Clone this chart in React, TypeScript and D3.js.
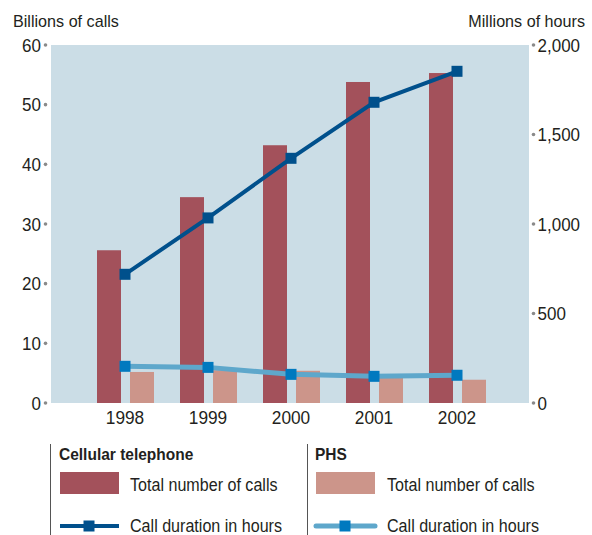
import React from "react";
import * as d3 from "d3";

const years = ["1998", "1999", "2000", "2001", "2002"];
const cellularCalls = [25.6, 34.5, 43.2, 53.8, 55.3];
const phsCalls = [5.2, 5.5, 5.4, 4.3, 3.9];
const cellularHours = [719, 1034, 1367, 1680, 1853];
const phsHours = [205, 199, 160, 149, 155];
const leftTicks = [0, 10, 20, 30, 40, 50, 60];
const rightTicks = [0, 500, 1000, 1500, 2000];

const FONT = "'Liberation Sans', Arial, sans-serif";
const INK = "#231f20";

function CText(props: { x: number; y: number; sx?: number; size: number; anchor?: string; bold?: boolean; children: any }) {
  const { x, y, sx = 1, size, anchor = "start", bold, children } = props;
  return (
    <text
      transform={`translate(${x},${y}) scale(${sx},1)`}
      fontSize={size}
      textAnchor={anchor}
      fontWeight={bold ? "bold" : "normal"}
      fill={INK}
    >
      {children}
    </text>
  );
}

export default function App() {
  const W = 592, H = 535;
  const plot = { left: 51, right: 529, top: 45, bottom: 403 };
  const x = d3.scalePoint<string>().domain(years).range([125, 457]);
  const yL = d3.scaleLinear().domain([0, 60]).range([plot.bottom, plot.top]);
  const yR = d3.scaleLinear().domain([0, 2000]).range([plot.bottom, plot.top]);
  const barW = 24;
  const fmt = d3.format(",");
  const line = d3.line<number>();
  const cellPts: [number, number][] = years.map((y, i) => [x(y)!, yR(cellularHours[i])]);
  const phsPts: [number, number][] = years.map((y, i) => [x(y)!, yR(phsHours[i])]);
  const ms = 11;
  const LS = 18.5, LX = 0.87;
  return (
    <svg width={W} height={H} style={{ position: "absolute", left: 0, top: 0 }} fontFamily={FONT}>
      <rect x={plot.left} y={plot.top} width={plot.right - plot.left} height={plot.bottom - plot.top} fill="#cbdde6" />
      <CText x={13} y={27} size={17} sx={0.95}>Billions of calls</CText>
      <CText x={585} y={27} size={17} sx={0.95} anchor="end">Millions of hours</CText>
      {leftTicks.map((t) => (
        <g key={"l" + t}>
          <circle cx={45.5} cy={yL(t)} r={1.8} fill="#8a8a8a" />
          <CText x={41} y={yL(t) + 6.5} size={18.5} sx={0.92} anchor="end">{t}</CText>
        </g>
      ))}
      {rightTicks.map((t) => (
        <g key={"r" + t}>
          <circle cx={533.5} cy={yR(t)} r={1.8} fill="#8a8a8a" />
          <CText x={537.5} y={yR(t) + 6.5} size={18.5} sx={0.92}>{fmt(t)}</CText>
        </g>
      ))}
      {years.map((y, i) => (
        <g key={y}>
          <rect x={x(y)! - 28} y={yL(cellularCalls[i])} width={barW} height={plot.bottom - yL(cellularCalls[i])} fill="#a3515b" />
          <rect x={x(y)! + 5} y={yL(phsCalls[i])} width={barW} height={plot.bottom - yL(phsCalls[i])} fill="#cc958a" />
          <CText x={x(y)!} y={424} size={18} sx={0.96} anchor="middle">{y}</CText>
        </g>
      ))}
      <path d={line(phsPts)!} fill="none" stroke="#5ea7cb" strokeWidth={5} />
      {phsPts.map((p, i) => (
        <rect key={"pm" + i} x={p[0] - ms / 2} y={p[1] - ms / 2} width={ms} height={ms} fill="#0079bf" />
      ))}
      <path d={line(cellPts)!} fill="none" stroke="#00508c" strokeWidth={4} />
      {cellPts.map((p, i) => (
        <rect key={"cm" + i} x={p[0] - ms / 2} y={p[1] - ms / 2} width={ms} height={ms} fill="#00508c" />
      ))}
      {/* Legend */}
      <line x1={50.5} y1={444} x2={50.5} y2={535} stroke="#555" strokeWidth={1} />
      <CText x={59} y={460} size={16.5} sx={0.94} bold>Cellular telephone</CText>
      <rect x={60} y={472} width={59} height={22} fill="#a3515b" />
      <CText x={130} y={491} size={LS} sx={LX}>Total number of calls</CText>
      <line x1={60} y1={526} x2={119} y2={526} stroke="#00508c" strokeWidth={4} />
      <rect x={89 - ms / 2} y={526 - ms / 2} width={ms} height={ms} fill="#00508c" />
      <CText x={130} y={532} size={LS} sx={LX}>Call duration in hours</CText>

      <line x1={307.5} y1={444} x2={307.5} y2={535} stroke="#555" strokeWidth={1} />
      <CText x={315} y={460} size={16.5} sx={0.94} bold>PHS</CText>
      <rect x={316} y={472} width={59} height={22} fill="#cc958a" />
      <CText x={387} y={491} size={LS} sx={LX}>Total number of calls</CText>
      <line x1={316} y1={526} x2={375} y2={526} stroke="#5ea7cb" strokeWidth={5} strokeLinecap="round" />
      <rect x={345 - ms / 2} y={526 - ms / 2} width={ms} height={ms} fill="#0079bf" />
      <CText x={387} y={532} size={LS} sx={LX}>Call duration in hours</CText>
    </svg>
  );
}
